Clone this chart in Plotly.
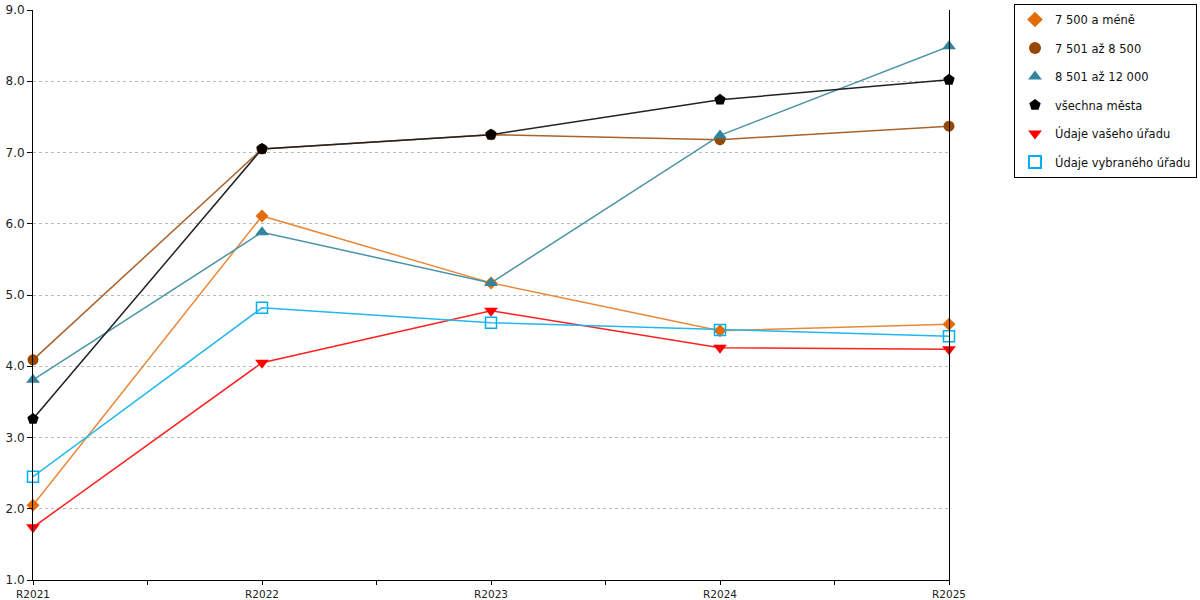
import plotly.graph_objects as go

# rok -> hodnoty
years = ["R2021", "R2022", "R2023", "R2024", "R2025"]

do_7500 = [2.05, 6.11, 5.17, 4.50, 4.59]
od_7501_do_8500 = [4.09, 7.05, 7.25, 7.18, 7.37]
od_8501_do_12000 = [3.81, 5.88, 5.17, 7.24, 8.49]
vsechna_mesta = [3.26, 7.05, 7.25, 7.74, 8.02]
vas_urad = [1.74, 4.05, 4.78, 4.26, 4.24]
vybrany_urad = [2.45, 4.82, 4.61, 4.51, 4.42]

x = list(range(len(years)))

series = [
    ("7 500 a méně", do_7500, "#E36C09", "#E8893A", "diamond", 10),
    ("7 501 až 8 500", od_7501_do_8500, "#974806", "#A9622A", "circle", 11),
    ("8 501 až 12 000", od_8501_do_12000, "#31859C", "#4A93A6", "triangle-up", 12),
    ("všechna města", vsechna_mesta, "#000000", "#222222", "pentagon", 12),
    ("Údaje vašeho úřadu", vas_urad, "#FF0000", "#FF2020", "triangle-down", 12),
    ("Údaje vybraného úřadu", vybrany_urad, "#00B0F0", "#22B8EE", "square-open", 11),
]

fig = go.Figure()
# lines first (no legend), markers on top with legend entries
for name, vals, mcol, lcol, sym, size in series:
    fig.add_trace(go.Scatter(
        x=x, y=vals, mode="lines", showlegend=False, hoverinfo="skip",
        line=dict(color=lcol, width=1.5), cliponaxis=False,
    ))
for i, (name, vals, mcol, lcol, sym, size) in enumerate(series):
    fig.add_trace(go.Scatter(
        x=x, y=vals, name=name, mode="markers",
        marker=dict(symbol=sym, size=size, color=mcol,
                    line=dict(width=1.5 if sym == "square-open" else 0, color=mcol)),
        legendgroup=f"g{i}",
        cliponaxis=False,
    ))

# ticks also between categories, labels only on categories
tickvals = [v / 2 for v in range(2 * len(years) - 1)]
ticktext = [years[int(v)] if v == int(v) else "" for v in tickvals]

fig.update_layout(
    width=1200, height=600,
    margin=dict(l=33, r=251, t=10, b=20, autoexpand=False),
    paper_bgcolor="white", plot_bgcolor="white",
    font=dict(family="DejaVu Sans", size=12, color="#222222"),
    showlegend=True,
    legend=dict(
        xref="container", yref="container",
        x=1014 / 1200, y=1 - 4 / 600, xanchor="left", yanchor="top",
        bordercolor="black", borderwidth=1, bgcolor="white",
        font=dict(size=11.5, color="#111111"),
        tracegroupgap=9.5,
        itemsizing="constant",
    ),
)
fig.update_xaxes(
    range=[0, len(years) - 1],
    tickvals=tickvals, ticktext=ticktext,
    ticks="outside", ticklen=4, tickcolor="black",
    showline=True, linecolor="black", linewidth=1,
    showgrid=False, zeroline=False, automargin=False,
    ticklabeloverflow="allow",
    tickfont=dict(size=10.5),
)
fig.update_yaxes(
    range=[1, 9], dtick=1, tickformat=".1f",
    ticks="outside", ticklen=5, tickcolor="black",
    showline=True, linecolor="black", linewidth=1, mirror=True,
    showgrid=True, gridcolor="#BBBBBB", griddash="dot", gridwidth=1,
    zeroline=False, automargin=False,
    ticklabeloverflow="allow",
    tickfont=dict(size=12),
)

# drop the default page margin so the figure sits at the window corner
fig.write_html("out.html", config={"displayModeBar": False},
               post_script="document.body.style.margin = '0';")
